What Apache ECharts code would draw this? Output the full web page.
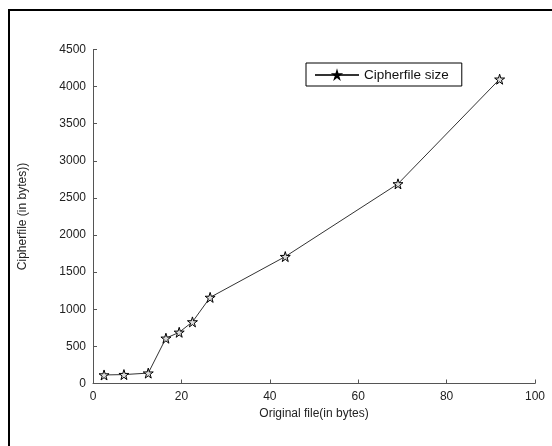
<!DOCTYPE html>
<html>
<head>
<meta charset="utf-8">
<script src="https://cdn.jsdelivr.net/npm/echarts@6/dist/echarts.min.js"></script>
<style>
html,body{margin:0;padding:0;background:#fff;}
#c{width:552px;height:446px;}
</style>
</head>
<body>
<div id="c"></div>
<script>
const originalBytes = [2.5, 7, 12.5, 16.5, 19.5, 22.5, 26.5, 43.5, 69, 92];
const cipherBytes = [115, 120, 140, 610, 690, 830, 1160, 1710, 2690, 4100];
const seriesName = 'Cipherfile size';
const xTitle = 'Original file(in bytes)';
const yTitle = 'Cipherfile (in bytes))';

const star = 'path://M50,0 L61,35 L98,35 L68,57 L79,91 L50,70 L21,91 L32,57 L2,35 L39,35 Z';
const font = 'Liberation Sans, Arial, sans-serif';

const chart = echarts.init(document.getElementById('c'), null, {renderer: 'canvas'});
chart.setOption({
  animation: false,
  backgroundColor: '#fff',
  grid: {left: 93, right: 17, top: 49.5, bottom: 62.5},
  graphic: [
    {type: 'rect', shape: {x: 8, y: 9, width: 2, height: 437}, style: {fill: '#000'}},
    {type: 'rect', shape: {x: 8, y: 9, width: 544, height: 2}, style: {fill: '#000'}}
  ],
  legend: {
    left: 306, top: 63,
    itemWidth: 44, itemHeight: 8,
    padding: [5, 13, 4, 8],
    borderColor: '#000', borderWidth: 1,
    textStyle: {fontFamily: font, fontSize: 13.5, color: '#111'},
    data: [seriesName]
  },
  xAxis: {
    type: 'value', min: 0, max: 100, interval: 20,
    name: xTitle, nameLocation: 'middle', nameGap: 21,
    nameTextStyle: {fontFamily: font, fontSize: 12, color: '#222'},
    axisLine: {onZero: false, lineStyle: {color: '#555', width: 1}},
    axisTick: {inside: true, length: 4, lineStyle: {color: '#555'}},
    axisLabel: {fontFamily: font, fontSize: 12, color: '#222', margin: 7},
    splitLine: {show: false}
  },
  yAxis: {
    type: 'value', min: 0, max: 4500, interval: 500,
    name: yTitle, nameLocation: 'middle', nameGap: 64, nameRotate: 90,
    nameTextStyle: {fontFamily: font, fontSize: 12, color: '#222'},
    axisLine: {show: true, onZero: false, lineStyle: {color: '#555', width: 1}},
    axisTick: {show: true, inside: true, length: 4, lineStyle: {color: '#555'}},
    axisLabel: {fontFamily: font, fontSize: 12, color: '#222', margin: 7, formatter: v => String(v)},
    splitLine: {show: false}
  },
  series: [{
    name: seriesName,
    type: 'line',
    data: originalBytes.map((x, i) => [x, cipherBytes[i]]),
    symbol: star,
    symbolSize: 10,
    showAllSymbol: true,
    lineStyle: {color: '#333', width: 1},
    itemStyle: {color: '#ddd', borderColor: '#000', borderWidth: 1}
  }]
});
</script>
</body>
</html>
